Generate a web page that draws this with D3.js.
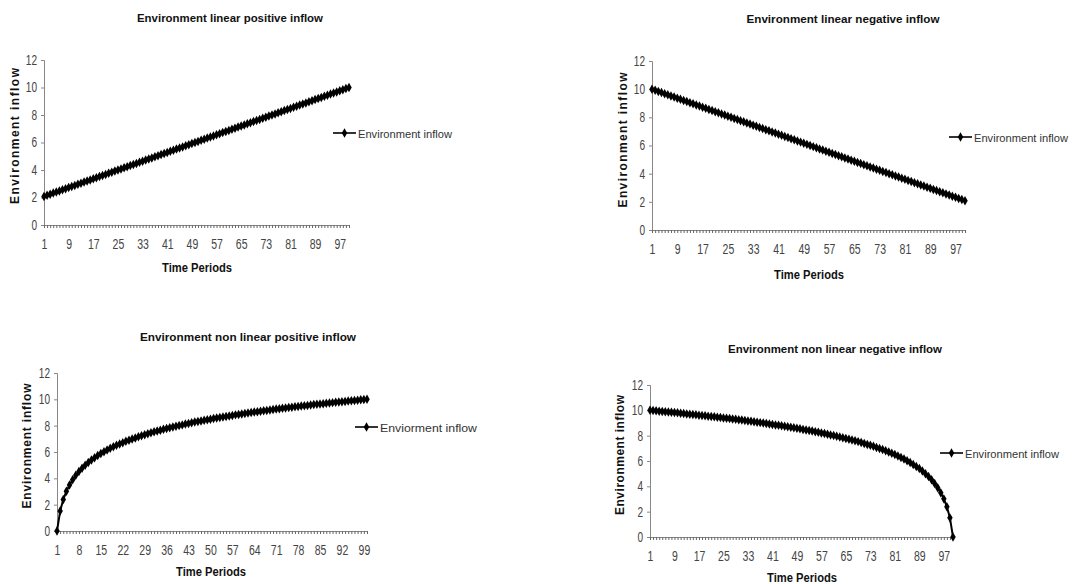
<!DOCTYPE html>
<html>
<head>
<meta charset="utf-8">
<script src="https://cdn.jsdelivr.net/npm/d3@7/dist/d3.min.js"></script>
<style>
  html, body { margin: 0; padding: 0; background: #fff; }
  svg { display: block; }
  .tick text { font-family: "Liberation Sans", Arial, sans-serif; fill: #444; }
</style>
</head>
<body>
<svg id="chart" width="1073" height="584"></svg>
<script>
// ---------------- DATA ----------------
const periods = [1,2,3,4,5,6,7,8,9,10,11,12,13,14,15,16,17,18,19,20,21,22,23,24,25,26,27,28,29,30,
  31,32,33,34,35,36,37,38,39,40,41,42,43,44,45,46,47,48,49,50,51,52,53,54,55,56,57,58,59,60,
  61,62,63,64,65,66,67,68,69,70,71,72,73,74,75,76,77,78,79,80,81,82,83,84,85,86,87,88,89,90,
  91,92,93,94,95,96,97,98,99,100];

const linearPositive = [2.08,2.16,2.24,2.32,2.40,2.48,2.56,2.64,2.72,2.80,
  2.88,2.96,3.04,3.12,3.20,3.28,3.36,3.44,3.52,3.60,
  3.68,3.76,3.84,3.92,4.00,4.08,4.16,4.24,4.32,4.40,
  4.48,4.56,4.64,4.72,4.80,4.88,4.96,5.04,5.12,5.20,
  5.28,5.36,5.44,5.52,5.60,5.68,5.76,5.84,5.92,6.00,
  6.08,6.16,6.24,6.32,6.40,6.48,6.56,6.64,6.72,6.80,
  6.88,6.96,7.04,7.12,7.20,7.28,7.36,7.44,7.52,7.60,
  7.68,7.76,7.84,7.92,8.00,8.08,8.16,8.24,8.32,8.40,
  8.48,8.56,8.64,8.72,8.80,8.88,8.96,9.04,9.12,9.20,
  9.28,9.36,9.44,9.52,9.60,9.68,9.76,9.84,9.92,10.00];

const linearNegative = [10.00,9.92,9.84,9.76,9.68,9.60,9.52,9.44,9.36,9.28,
  9.20,9.12,9.04,8.96,8.88,8.80,8.72,8.64,8.56,8.48,
  8.40,8.32,8.24,8.16,8.08,8.00,7.92,7.84,7.76,7.68,
  7.60,7.52,7.44,7.36,7.28,7.20,7.12,7.04,6.96,6.88,
  6.80,6.72,6.64,6.56,6.48,6.40,6.32,6.24,6.16,6.08,
  6.00,5.92,5.84,5.76,5.68,5.60,5.52,5.44,5.36,5.28,
  5.20,5.12,5.04,4.96,4.88,4.80,4.72,4.64,4.56,4.48,
  4.40,4.32,4.24,4.16,4.08,4.00,3.92,3.84,3.76,3.68,
  3.60,3.52,3.44,3.36,3.28,3.20,3.12,3.04,2.96,2.88,
  2.80,2.72,2.64,2.56,2.48,2.40,2.32,2.24,2.16,2.08];

const nonLinearPositive = [0.00,1.51,2.39,3.01,3.49,3.89,4.23,4.52,4.77,5.00,
  5.21,5.40,5.57,5.73,5.88,6.02,6.15,6.28,6.39,6.51,
  6.61,6.71,6.81,6.90,6.99,7.07,7.16,7.24,7.31,7.39,
  7.46,7.53,7.59,7.66,7.72,7.78,7.84,7.90,7.96,8.01,
  8.06,8.12,8.17,8.22,8.27,8.31,8.36,8.41,8.45,8.49,
  8.54,8.58,8.62,8.66,8.70,8.74,8.78,8.82,8.85,8.89,
  8.93,8.96,9.00,9.03,9.06,9.10,9.13,9.16,9.19,9.23,
  9.26,9.29,9.32,9.35,9.38,9.40,9.43,9.46,9.49,9.52,
  9.54,9.57,9.60,9.62,9.65,9.67,9.70,9.72,9.75,9.77,
  9.80,9.82,9.84,9.87,9.89,9.91,9.93,9.96,9.98,10.00];

const nonLinearNegative = [10.00,9.98,9.96,9.93,9.91,9.89,9.87,9.84,9.82,9.80,
  9.77,9.75,9.72,9.70,9.67,9.65,9.62,9.60,9.57,9.54,
  9.52,9.49,9.46,9.43,9.40,9.38,9.35,9.32,9.29,9.26,
  9.23,9.19,9.16,9.13,9.10,9.06,9.03,9.00,8.96,8.93,
  8.89,8.85,8.82,8.78,8.74,8.70,8.66,8.62,8.58,8.54,
  8.49,8.45,8.41,8.36,8.31,8.27,8.22,8.17,8.12,8.06,
  8.01,7.96,7.90,7.84,7.78,7.72,7.66,7.59,7.53,7.46,
  7.39,7.31,7.24,7.16,7.07,6.99,6.90,6.81,6.71,6.61,
  6.51,6.39,6.28,6.15,6.02,5.88,5.73,5.57,5.40,5.21,
  5.00,4.77,4.52,4.23,3.89,3.49,3.01,2.39,1.51,0.00];

const yTickValues = [0, 2, 4, 6, 8, 10, 12];
const xLabelsEvery8 = [1, 9, 17, 25, 33, 41, 49, 57, 65, 73, 81, 89, 97];
const xLabelsEvery7 = [1, 8, 15, 22, 29, 36, 43, 50, 57, 64, 71, 78, 85, 92, 99];

const titles = ["Environment linear positive inflow", "Environment linear negative inflow",
                "Environment non linear positive inflow", "Environment non linear negative inflow"];
const legendLabels = ["Environment inflow", "Environment inflow", "Enviorment inflow", "Environment inflow"];
const seriesList = [linearPositive, linearNegative, nonLinearPositive, nonLinearNegative];
const xLabelSets = [xLabelsEvery8, xLabelsEvery8, xLabelsEvery7, xLabelsEvery8];

// ---------------- LAYOUT ----------------
const layouts = [
  {left: 44,  right: 349, top: 60,  bottom: 225, titleX: 230, titleY: 22,  titleW: 186,
   xTitleX: 197, xTitleY: 272, yTitleX: 19,  yTitleY: 136, yTitleLen: 136, legX: 333, legY: 133, legW: 94},
  {left: 652, right: 965, top: 61,  bottom: 230, titleX: 843, titleY: 23,  titleW: 193,
   xTitleX: 809, xTitleY: 279, yTitleX: 627, yTitleY: 140, yTitleLen: 135, legX: 949, legY: 137, legW: 94},
  {left: 57,  right: 367, top: 373, bottom: 531, titleX: 248, titleY: 341, titleW: 216,
   xTitleX: 211, xTitleY: 576, yTitleX: 31,  yTitleY: 446, yTitleLen: 125, legX: 355, legY: 427, legW: 97},
  {left: 650, right: 953, top: 385, bottom: 537, titleX: 835, titleY: 353, titleW: 214,
   xTitleX: 802, xTitleY: 582, yTitleX: 624, yTitleY: 455, yTitleLen: 120, legX: 940, legY: 453, legW: 94}
];

const svg = d3.select("#chart");
const diamond = d3.symbol().type(d3.symbolDiamond).size(26);

function condense(sel, factor) {
  sel.each(function() {
    const t = d3.select(this);
    if (!t.text()) return;
    const len = this.getComputedTextLength();
    t.attr("textLength", len * factor).attr("lengthAdjust", "spacingAndGlyphs");
  });
}

seriesList.forEach((values, i) => {
  const L = layouts[i];
  const g = svg.append("g");
  const x = d3.scaleLinear().domain([1, 100]).range([L.left, L.right]);
  const y = d3.scaleLinear().domain([0, 12]).range([L.bottom, L.top]);
  const labelSet = new Set(xLabelSets[i]);

  // Y axis
  const yAxis = g.append("g")
    .attr("transform", `translate(${L.left},0)`)
    .call(d3.axisLeft(y).tickValues(yTickValues).tickSize(3).tickPadding(4).tickFormat(d3.format("d")));
  yAxis.select(".domain").attr("stroke", "#888");
  yAxis.selectAll(".tick line").attr("stroke", "#888");
  yAxis.selectAll(".tick text").style("font-size", "14px");
  condense(yAxis.selectAll(".tick text"), 0.72);

  // X axis
  const xAxis = g.append("g")
    .attr("transform", `translate(0,${L.bottom})`)
    .call(d3.axisBottom(x).tickValues(periods).tickSize(3).tickPadding(11)
      .tickFormat(d => labelSet.has(d) ? String(d) : ""));
  xAxis.select(".domain").attr("stroke", "#888");
  xAxis.selectAll(".tick line").attr("stroke", "#666");
  xAxis.selectAll(".tick text").style("font-size", "14px");
  condense(xAxis.selectAll(".tick text"), 0.75);

  // line
  const line = d3.line().x((d, j) => x(periods[j])).y(d => y(d));
  g.append("path").datum(values)
    .attr("d", line).attr("fill", "none").attr("stroke", "#000").attr("stroke-width", 2);
  g.selectAll("path.mk").data(values).join("path")
    .attr("class", "mk")
    .attr("d", diamond)
    .attr("transform", (d, j) => `translate(${x(periods[j])},${y(d)})`)
    .attr("fill", "#000");

  // title
  g.append("text")
    .attr("x", L.titleX).attr("y", L.titleY)
    .attr("text-anchor", "middle")
    .attr("textLength", L.titleW).attr("lengthAdjust", "spacingAndGlyphs")
    .style("font-family", "'Liberation Sans', Arial, sans-serif")
    .style("font-weight", "bold").style("font-size", "11px").style("fill", "#111")
    .text(titles[i]);

  // x title
  g.append("text")
    .attr("x", L.xTitleX).attr("y", L.xTitleY)
    .attr("text-anchor", "middle")
    .attr("textLength", 70).attr("lengthAdjust", "spacingAndGlyphs")
    .style("font-family", "'Liberation Sans', Arial, sans-serif")
    .style("font-weight", "bold").style("font-size", "12px").style("fill", "#111")
    .text("Time Periods");

  // y title
  g.append("text")
    .attr("transform", `translate(${L.yTitleX},${L.yTitleY}) rotate(-90)`)
    .attr("text-anchor", "middle")
    .attr("textLength", L.yTitleLen).attr("lengthAdjust", "spacing")
    .style("font-family", "'Liberation Sans', Arial, sans-serif")
    .style("font-weight", "bold").style("font-size", "12px").style("fill", "#111")
    .text("Environment inflow");

  // legend
  g.append("line")
    .attr("x1", L.legX).attr("x2", L.legX + 23)
    .attr("y1", L.legY).attr("y2", L.legY)
    .attr("stroke", "#000").attr("stroke-width", 1.6);
  g.append("path").attr("d", d3.symbol().type(d3.symbolDiamond).size(26))
    .attr("transform", `translate(${L.legX + 11.5},${L.legY})`).attr("fill", "#000");
  g.append("text")
    .attr("x", L.legX + 25).attr("y", L.legY + 4.5)
    .attr("textLength", L.legW).attr("lengthAdjust", "spacingAndGlyphs")
    .style("font-family", "'Liberation Sans', Arial, sans-serif")
    .style("font-size", "11.5px").style("fill", "#333")
    .text(legendLabels[i]);
});
</script>
</body>
</html>
